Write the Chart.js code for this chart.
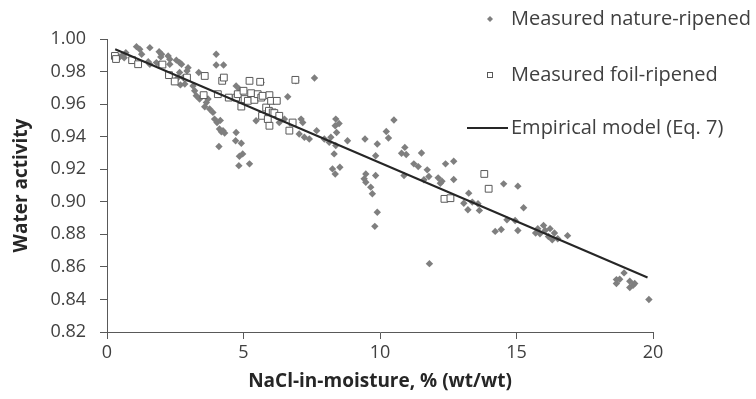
<!DOCTYPE html>
<html>
<head>
<meta charset="utf-8">
<style>
html,body{margin:0;padding:0;background:#ffffff;}
#wrap{width:756px;height:399px;position:relative;}
</style>
<script src="https://cdn.jsdelivr.net/npm/chart.js@4.4.1/dist/chart.umd.min.js"></script>
</head>
<body>
<div id="wrap"><canvas id="c" width="756" height="399"></canvas></div>
<script>
// ---- data ----
const natureX = [0.47,0.57,0.63,0.69,1.08,1.20,1.27,1.51,1.57,1.57,1.81,1.91,1.93,1.97,2.00,2.24,2.30,2.30,2.54,2.60,
  2.66,2.66,2.69,2.73,2.79,2.85,2.93,2.97,3.15,3.21,3.27,3.36,3.39,3.58,3.64,3.70,3.76,3.88,3.94,4.00,
  4.00,4.03,4.10,4.12,4.15,4.19,4.25,4.27,4.31,4.71,4.73,4.73,4.83,4.85,4.85,4.92,4.97,5.22,5.46,5.65,
  6.31,6.50,6.62,6.92,7.04,7.11,7.17,7.23,7.41,7.60,7.68,7.96,8.14,8.20,8.26,8.32,8.36,8.36,8.38,8.38,
  8.41,8.50,8.53,8.81,9.42,9.45,9.48,9.48,9.66,9.72,9.81,9.84,9.84,9.90,9.90,10.23,10.31,10.51,10.79,10.88,
  10.91,10.96,11.24,11.40,11.52,11.61,11.73,11.79,11.81,12.13,12.21,12.27,12.40,12.70,12.70,13.07,13.22,13.25,13.38,13.59,
  13.64,14.22,14.44,14.53,14.65,14.95,15.05,15.05,15.26,15.70,15.78,15.86,15.99,16.05,16.17,16.23,16.31,16.39,16.51,16.87,
  18.66,18.66,18.78,18.94,19.15,19.15,19.27,19.33,19.85];
const natureY = [0.9890,0.9900,0.9885,0.9916,0.9953,0.9937,0.9906,0.9860,0.9947,0.9845,0.9855,0.9922,0.9845,0.9890,0.9906,0.9896,0.9876,0.9845,0.9870,0.9763,
  0.9855,0.9794,0.9718,0.9845,0.9763,0.9723,0.9804,0.9824,0.9712,0.9682,0.9651,0.9794,0.9631,0.9584,0.9610,0.9631,0.9570,0.9549,0.9508,0.9906,
  0.9840,0.9487,0.9340,0.9447,0.9500,0.9430,0.9437,0.9840,0.9422,0.9375,0.9712,0.9426,0.9222,0.9692,0.9280,0.9360,0.9294,0.9233,0.9498,0.9732,
  0.9487,0.9508,0.9645,0.9743,0.9416,0.9508,0.9487,0.9396,0.9386,0.9760,0.9437,0.9386,0.9365,0.9396,0.9202,0.9294,0.9467,0.9171,0.9508,0.9345,
  0.9426,0.9481,0.9212,0.9375,0.9141,0.9386,0.9171,0.9120,0.9090,0.9049,0.8849,0.9283,0.9161,0.9355,0.8936,0.9432,0.9392,0.9502,0.9298,0.9161,
  0.9334,0.9290,0.9233,0.9216,0.9300,0.9135,0.9196,0.9155,0.8620,0.9147,0.9114,0.9126,0.9233,0.9249,0.9137,0.8991,0.8951,0.9053,0.8998,0.8988,
  0.8947,0.8818,0.8830,0.9110,0.8889,0.8885,0.9096,0.8824,0.8963,0.8808,0.8835,0.8804,0.8855,0.8824,0.8787,0.8835,0.8767,0.8808,0.8773,0.8792,
  0.8522,0.8498,0.8524,0.8563,0.8512,0.8473,0.8487,0.8498,0.8400];
const foilX = [0.29,0.33,0.92,1.14,2.03,2.27,2.48,2.93,3.54,3.58,4.06,4.22,4.28,4.46,4.73,4.79,4.92,5.00,5.04,5.16,
  5.22,5.28,5.40,5.52,5.61,5.65,5.68,5.70,5.83,5.89,5.93,5.95,5.95,6.01,6.07,6.13,6.22,6.31,6.68,6.80,
  6.90,12.36,12.58,13.82,13.98];
const foilY = [0.9896,0.9877,0.9870,0.9845,0.9843,0.9778,0.9739,0.9763,0.9655,0.9773,0.9661,0.9743,0.9763,0.9640,0.9640,0.9661,0.9585,0.9682,0.9631,0.9620,
  0.9743,0.9667,0.9626,0.9661,0.9737,0.9640,0.9528,0.9651,0.9579,0.9508,0.9559,0.9655,0.9467,0.9620,0.9549,0.9545,0.9620,0.9528,0.9437,0.9487,
  0.9749,0.9018,0.9022,0.9171,0.9080];
const modelX = [0.3, 19.8];
const modelY = [0.9937, 0.8535];
const xTicks = [0, 5, 10, 15, 20];
const yTicks = [0.82, 0.84, 0.86, 0.88, 0.90, 0.92, 0.94, 0.96, 0.98, 1.00];
const yTickLabels = ['0.82','0.84','0.86','0.88','0.90','0.92','0.94','0.96','0.98','1.00'];
const seriesNames = ['Measured nature-ripened', 'Measured foil-ripened', 'Empirical model (Eq. 7)'];
const xTitle = 'NaCl-in-moisture, % (wt/wt)';
const yTitle = 'Water activity';

const toPts = (xs, ys) => xs.map((x, i) => ({x: x, y: ys[i]}));

const FONT = '"Open Sans", "Noto Sans", sans-serif';
const TXT = '#404040';
const AXIS = '#595959';

const legendPlugin = {
  id: 'customLegend',
  afterDraw(chart) {
    const ctx = chart.ctx;
    ctx.save();
    ctx.font = '20px ' + FONT;
    ctx.textBaseline = 'middle';
    ctx.textAlign = 'left';
    const tx = 511;
    const rows = [19, 75, 128];
    // diamond
    ctx.fillStyle = '#7f7f7f';
    ctx.beginPath();
    ctx.moveTo(490, rows[0] - 3); ctx.lineTo(493, rows[0]); ctx.lineTo(490, rows[0] + 3); ctx.lineTo(487, rows[0]);
    ctx.closePath(); ctx.fill();
    // square
    ctx.fillStyle = '#ffffff';
    ctx.strokeStyle = AXIS;
    ctx.lineWidth = 1;
    ctx.fillRect(487.5, rows[1] - 2.5, 5, 5);
    ctx.strokeRect(487.5, rows[1] - 2.5, 5, 5);
    // line
    ctx.strokeStyle = '#262626';
    ctx.lineWidth = 2;
    ctx.beginPath(); ctx.moveTo(467, rows[2]); ctx.lineTo(508, rows[2]); ctx.stroke();
    ctx.fillStyle = TXT;
    seriesNames.forEach((s, i) => ctx.fillText(s, tx, rows[i]));
    ctx.restore();
  }
};

new Chart(document.getElementById('c'), {
  type: 'scatter',
  data: {
    datasets: [
      {
        label: seriesNames[0], data: toPts(natureX, natureY), order: 3,
        pointStyle: 'rectRot', pointRadius: 3.7, pointHoverRadius: 3.7,
        backgroundColor: '#7f7f7f', borderColor: '#7f7f7f', borderWidth: 0
      },
      {
        label: seriesNames[1], data: toPts(foilX, foilY), order: 2,
        pointStyle: 'rect', pointRadius: 4.8, pointHoverRadius: 4.8,
        backgroundColor: '#ffffff', borderColor: AXIS, borderWidth: 1
      },
      {
        type: 'line', label: seriesNames[2], data: toPts(modelX, modelY), order: 1,
        showLine: true, pointRadius: 0, borderColor: '#262626', borderWidth: 2, fill: false, tension: 0
      }
    ]
  },
  options: {
    responsive: false,
    animation: false,
    devicePixelRatio: 1,
    layout: { padding: { left: 0, right: 103, top: 39, bottom: 0 } },
    plugins: { legend: { display: false }, tooltip: { enabled: false } },
    scales: {
      x: {
        type: 'linear', min: 0, max: 20,
        afterBuildTicks: (s) => { s.ticks = xTicks.map(v => ({value: v})); },
        afterFit: (s) => { s.height = 67; },
        grid: { display: true, drawOnChartArea: false, drawTicks: true, tickLength: 7, color: AXIS },
        border: { display: true, color: AXIS, width: 1 },
        ticks: { color: TXT, font: { family: FONT, size: 18 }, padding: 3, maxRotation: 0,
          callback: (v) => String(v) },
        title: { display: true, text: xTitle, color: '#262626',
          font: { family: FONT, size: 19, weight: 'bold' }, padding: { top: 0, bottom: 6 } }
      },
      y: {
        type: 'linear', min: 0.82, max: 1.00,
        afterBuildTicks: (s) => { s.ticks = yTicks.map(v => ({value: v})); },
        afterFit: (s) => { s.width = 107; },
        grid: { display: true, drawOnChartArea: false, drawTicks: true, tickLength: 7, color: AXIS },
        border: { display: true, color: AXIS, width: 1 },
        ticks: { color: TXT, font: { family: FONT, size: 18 }, padding: 14,
          callback: (v) => { const i = yTicks.findIndex(t => Math.abs(t - v) < 1e-9); return i >= 0 ? yTickLabels[i] : ''; } },
        title: { display: true, text: yTitle, color: '#262626',
          font: { family: FONT, size: 19, weight: 'bold' }, padding: { top: 10, bottom: 0 } }
      }
    }
  },
  plugins: [legendPlugin]
});
</script>
</body>
</html>
